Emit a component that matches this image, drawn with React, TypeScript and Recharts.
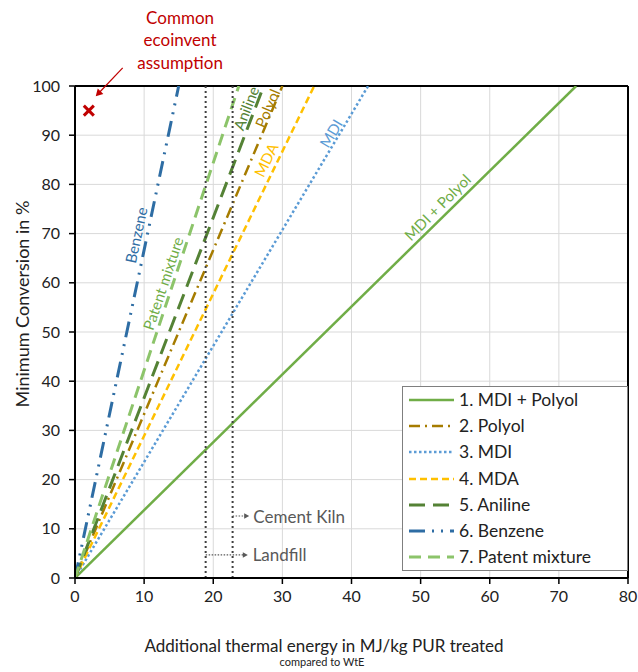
import {
  ComposedChart,
  Line,
  Scatter,
  XAxis,
  YAxis,
  CartesianGrid,
  ReferenceLine,
  ReferenceDot,
  Legend,
  Label,
} from 'recharts';

const FONT = 'Lato, "Open Sans", sans-serif';

const X_TICKS = [0, 10, 20, 30, 40, 50, 60, 70, 80];
const Y_TICKS = [0, 10, 20, 30, 40, 50, 60, 70, 80, 90, 100];

// minimum conversion (%) against additional thermal energy (MJ/kg)
const MDI_POLYOL = [{ x: 0, y: 0 }, { x: 72.5, y: 100 }];
const POLYOL = [{ x: 0, y: 0 }, { x: 30.0, y: 100 }];
const MDI = [{ x: 0, y: 0 }, { x: 42.4, y: 100 }];
const MDA = [{ x: 0, y: 0 }, { x: 34.6, y: 100 }];
const ANILINE = [{ x: 0, y: 0 }, { x: 27.3, y: 100 }];
const BENZENE = [{ x: 0, y: 0 }, { x: 15.0, y: 100 }];
const PATENT = [{ x: 0, y: 0 }, { x: 23.7, y: 100 }];

const ECOINVENT = [{ x: 2, y: 95 }];
const LANDFILL_X = 18.9;
const CEMENT_KILN_X = 22.8;

const SERIES = [
  { key: 'mdiPolyol', name: '1. MDI + Polyol', data: MDI_POLYOL, color: '#70AD47', dash: undefined, width: 2.5 },
  { key: 'polyol', name: '2. Polyol', data: POLYOL, color: '#A67C00', dash: '11 5 2 5', width: 2.5 },
  { key: 'mdi', name: '3. MDI', data: MDI, color: '#5B9BD5', dash: '2.5 2.5', width: 2.5 },
  { key: 'mda', name: '4. MDA', data: MDA, color: '#FFC000', dash: '7 4', width: 2.5 },
  { key: 'aniline', name: '5. Aniline', data: ANILINE, color: '#548235', dash: '16 8', width: 3 },
  { key: 'benzene', name: '6. Benzene', data: BENZENE, color: '#2E6DA4', dash: '16 7 2 7 2 7', width: 3 },
  { key: 'patent', name: '7. Patent mixture', data: PATENT, color: '#8CC46A', dash: '12 7', width: 3 },
];

// text placed along the lines
const LINE_LABELS = [
  { text: 'Benzene', x: 8.8, y: 69.7, angle: -78, color: '#2E6DA4' },
  { text: 'Patent mixture', x: 12.7, y: 59.9, angle: -71.5, color: '#70AD47' },
  { text: 'Aniline', x: 24.7, y: 95.5, angle: -69, color: '#548235' },
  { text: 'Polyol', x: 27.8, y: 95.5, angle: -67, color: '#A67C00' },
  { text: 'MDA', x: 27.6, y: 85.0, angle: -64, color: '#FFC000' },
  { text: 'MDI', x: 37.0, y: 90.4, angle: -59, color: '#5B9BD5' },
  { text: 'MDI + Polyol', x: 52.4, y: 75.4, angle: -45, color: '#70AD47' },
];

const arrowShape = (color: string, dash: string, head: number) => (props: any) => {
  const { x1, y1, x2, y2 } = props;
  const a = Math.atan2(y2 - y1, x2 - x1);
  const p1 = `${x2},${y2}`;
  const p2 = `${x2 - head * Math.cos(a) + head * 0.55 * Math.sin(a)},${y2 - head * Math.sin(a) - head * 0.55 * Math.cos(a)}`;
  const p3 = `${x2 - head * Math.cos(a) - head * 0.55 * Math.sin(a)},${y2 - head * Math.sin(a) + head * 0.55 * Math.cos(a)}`;
  return (
    <g>
      <line x1={x1} y1={y1} x2={x2 - head * 0.8 * Math.cos(a)} y2={y2 - head * 0.8 * Math.sin(a)} stroke={color} strokeWidth={1.2} strokeDasharray={dash} />
      <polygon points={`${p1} ${p2} ${p3}`} fill={color} />
    </g>
  );
};

const CrossShape = (props: any) => {
  const { cx, cy } = props;
  const s = 5;
  return (
    <g stroke="#C00000" strokeWidth={3}>
      <line x1={cx - s} y1={cy - s} x2={cx + s} y2={cy + s} />
      <line x1={cx - s} y1={cy + s} x2={cx + s} y2={cy - s} />
    </g>
  );
};

const LegendBox = () => (
  <div
    style={{
      width: 226,
      height: 185,
      boxSizing: 'border-box',
      border: '1.5px solid #7F7F7F',
      background: '#fff',
      fontFamily: FONT,
      fontSize: 17.5,
      color: '#222',
    }}
  >
    {SERIES.map((s) => (
      <div key={s.key} style={{ height: 26.2, display: 'flex', alignItems: 'center' }}>
        <svg width={52} height={12} style={{ display: 'block' }}>
          <line x1={6} y1={6} x2={51} y2={6} stroke={s.color} strokeWidth={s.width} strokeDasharray={s.dash} />
        </svg>
        <span style={{ marginLeft: 4, lineHeight: '18px' }}>{s.name}</span>
      </div>
    ))}
  </div>
);

export default function App() {
  return (
    <div style={{ position: 'absolute', left: 0, top: 0, width: 638, height: 672, background: '#fff' }}>
      <ComposedChart width={638} height={672} margin={{ top: 86, right: 10, bottom: 64, left: 0 }}>
        <CartesianGrid stroke="#D9D9D9" strokeWidth={1} />
        <XAxis
          type="number"
          dataKey="x"
          domain={[0, 80]}
          ticks={X_TICKS}
          allowDataOverflow
          height={30}
          tickSize={6}
          tickMargin={7}
          axisLine={{ stroke: '#000', strokeWidth: 2 }}
          tickLine={{ stroke: '#000', strokeWidth: 1.5 }}
          tick={{ fontSize: 16, fill: '#222', fontFamily: FONT }}
        >
          <Label
            content={() => (
              <g fontFamily={FONT} fill="#222" textAnchor="middle">
                <text x={324} y={652} fontSize={17}>
                  Additional thermal energy in MJ/kg PUR treated
                </text>
                <text x={322} y={666} fontSize={11}>
                  compared to WtE
                </text>
              </g>
            )}
          />
        </XAxis>
        <YAxis
          type="number"
          dataKey="y"
          domain={[0, 100]}
          ticks={Y_TICKS}
          allowDataOverflow
          width={75}
          tickSize={6}
          tickMargin={9}
          axisLine={{ stroke: '#000', strokeWidth: 2 }}
          tickLine={{ stroke: '#000', strokeWidth: 1.5 }}
          tick={{ fontSize: 16, fill: '#222', fontFamily: FONT }}
        >
          <Label
            content={() => (
              <text
                x={22}
                y={304}
                transform="rotate(-90 22 304)"
                textAnchor="middle"
                dominantBaseline="central"
                fontFamily={FONT}
                fontSize={18}
                fill="#222"
              >
                Minimum Conversion in %
              </text>
            )}
          />
        </YAxis>

        <ReferenceLine y={100} stroke="#000" strokeWidth={2} />
        <ReferenceLine x={80} stroke="#000" strokeWidth={2} />

        {SERIES.map((s) => (
          <Line
            key={s.key}
            data={s.data}
            dataKey="y"
            name={s.name}
            type="linear"
            stroke={s.color}
            strokeWidth={s.width}
            strokeDasharray={s.dash}
            dot={false}
            activeDot={false}
            legendType="line"
            isAnimationActive={false}
          />
        ))}

        <ReferenceLine x={LANDFILL_X} stroke="#404040" strokeWidth={2} strokeDasharray="2 3" />
        <ReferenceLine x={CEMENT_KILN_X} stroke="#404040" strokeWidth={2} strokeDasharray="2 3" />

        <ReferenceLine
          segment={[{ x: LANDFILL_X, y: 4.7 }, { x: 25.0, y: 4.7 }]}
          ifOverflow="visible"
          shape={arrowShape('#595959', '1.5 1.5', 5)}
        />
        <ReferenceLine
          segment={[{ x: CEMENT_KILN_X, y: 12.6 }, { x: 25.2, y: 12.6 }]}
          ifOverflow="visible"
          shape={arrowShape('#595959', '1.5 1.5', 5)}
        />
        <ReferenceDot
          x={25.7}
          y={4.7}
          r={0}
          fill="none"
          stroke="none"
          label={{
            content: (p: any) => (
              <text x={p.viewBox.x} y={p.viewBox.y} dominantBaseline="central" fontFamily={FONT} fontSize={17} fill="#595959">
                Landfill
              </text>
            ),
          }}
        />
        <ReferenceDot
          x={25.8}
          y={12.6}
          r={0}
          fill="none"
          stroke="none"
          label={{
            content: (p: any) => (
              <text x={p.viewBox.x} y={p.viewBox.y} dominantBaseline="central" fontFamily={FONT} fontSize={17} fill="#595959">
                Cement Kiln
              </text>
            ),
          }}
        />

        {LINE_LABELS.map((l) => (
          <ReferenceDot
            key={l.text}
            x={l.x}
            y={l.y}
            r={0}
            fill="none"
            stroke="none"
            label={{
              content: (p: any) => {
                const cx = p.viewBox.x + (p.viewBox.width || 0) / 2;
                const cy = p.viewBox.y + (p.viewBox.height || 0) / 2;
                return (
                  <text
                    x={cx}
                    y={cy}
                    transform={`rotate(${l.angle} ${cx} ${cy})`}
                    textAnchor="middle"
                    dominantBaseline="central"
                    fontFamily={FONT}
                    fontSize={15}
                    fill={l.color}
                  >
                    {l.text}
                  </text>
                );
              },
            }}
          />
        ))}

        <Scatter data={ECOINVENT} dataKey="y" shape={<CrossShape />} legendType="none" isAnimationActive={false} />

        <ReferenceLine
          segment={[{ x: 6.9, y: 103.7 }, { x: 3.0, y: 97.9 }]}
          ifOverflow="visible"
          shape={arrowShape('#C00000', '0', 7)}
        />
        <ReferenceDot
          x={15.2}
          y={110}
          r={0}
          fill="none"
          stroke="none"
          ifOverflow="visible"
          label={{
            content: (p: any) => (
              <text x={p.viewBox.x} y={p.viewBox.y} textAnchor="middle" fontFamily={FONT} fontSize={17} fill="#C00000">
                <tspan x={p.viewBox.x} dy={-13}>Common</tspan>
                <tspan x={p.viewBox.x} dy={22.5}>ecoinvent</tspan>
                <tspan x={p.viewBox.x} dy={22.5}>assumption</tspan>
              </text>
            ),
          }}
        />

        <Legend
          layout="vertical"
          align="center"
          verticalAlign="middle"
          content={() => <LegendBox />}
          wrapperStyle={{ position: 'absolute', left: 402, top: 386, width: 226, height: 185, bottom: 'auto', right: 'auto' }}
        />
      </ComposedChart>
    </div>
  );
}
